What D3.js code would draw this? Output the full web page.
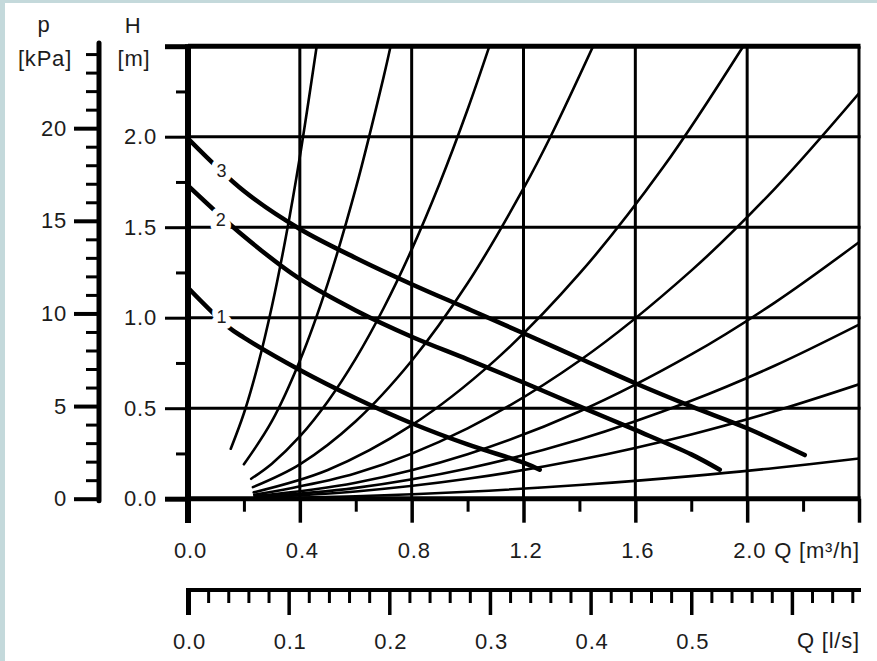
<!DOCTYPE html>
<html><head><meta charset="utf-8">
<script src="https://cdn.jsdelivr.net/npm/d3@7"></script>
<style>
html,body{margin:0;padding:0;background:#fff;}
svg{display:block;}
text{font-family:"Liberation Sans",Arial,sans-serif;fill:#1c1c1c;}
</style></head><body>
<svg id="chart" width="877" height="661"></svg>
<script>
// ---- axis ticks / labels ----
const qTicks = [0, 0.4, 0.8, 1.2, 1.6, 2.0, 2.4];
const qTickLabels = ["0.0", "0.4", "0.8", "1.2", "1.6", "2.0", ""];
const qMinor = [0.2, 0.6, 1.0, 1.4, 1.8, 2.2];
const hTicks = [0, 0.5, 1.0, 1.5, 2.0, 2.5];
const hTickLabels = ["0.0", "0.5", "1.0", "1.5", "2.0", ""];
const hMinor = [0.25, 0.75, 1.25, 1.75, 2.25];
const pMajor = [0, 5, 10, 15, 20];
const pMinor = [1, 2, 3, 4, 6, 7, 8, 9, 11, 12, 13, 14, 16, 17, 18, 19, 21, 22, 23, 24];
const lsMajor = [0, 0.1, 0.2, 0.3, 0.4, 0.5, 0.6];
const lsTickLabels = ["0.0", "0.1", "0.2", "0.3", "0.4", "0.5", ""];
const lsMinor = [0.02, 0.04, 0.06, 0.08, 0.12, 0.14, 0.16, 0.18, 0.22, 0.24, 0.26, 0.28,
  0.32, 0.34, 0.36, 0.38, 0.42, 0.44, 0.46, 0.48, 0.52, 0.54, 0.56, 0.58, 0.62, 0.64, 0.66];

// ---- pump curves [Q m3/h, H m] ----
const pump3 = [[0, 1.99], [0.2, 1.70], [0.4, 1.49], [0.6, 1.33], [0.8, 1.185], [1.0, 1.05],
  [1.2, 0.914], [1.4, 0.776], [1.6, 0.638], [1.8, 0.51], [2.0, 0.389], [2.206, 0.241]];
const pump2 = [[0, 1.73], [0.2, 1.45], [0.4, 1.214], [0.6, 1.04], [0.8, 0.895], [1.0, 0.77],
  [1.2, 0.642], [1.4, 0.51], [1.6, 0.38], [1.8, 0.245], [1.902, 0.16]];
const pump1 = [[0, 1.165], [0.143, 0.95], [0.2, 0.89], [0.4, 0.711], [0.6, 0.555], [0.8, 0.417],
  [1.0, 0.30], [1.2, 0.199], [1.258, 0.16]];
const pumpLabels = [
  { id: "3", q: 0.12, h: 1.815 },
  { id: "2", q: 0.117, h: 1.54 },
  { id: "1", q: 0.12, h: 1.004 }
];

// ---- system curves [Q m3/h, H m] ----
const sysA = [[0.153, 0.276], [0.2, 0.472], [0.25, 0.738], [0.3, 1.062], [0.35, 1.446], [0.4, 1.888], [0.46, 2.497]];
const sysB = [[0.2, 0.19], [0.3, 0.428], [0.4, 0.762], [0.5, 1.19], [0.6, 1.714], [0.7, 2.332], [0.725, 2.502]];
const sysC = [[0.226, 0.11], [0.3, 0.1935], [0.4, 0.344], [0.5, 0.5375], [0.6, 0.774], [0.7, 1.0535],
  [0.8, 1.376], [0.9, 1.7415], [1.0, 2.15], [1.078, 2.5]];
const sysD = [[0.232, 0.064], [0.4, 0.19], [0.6, 0.428], [0.8, 0.762], [1.0, 1.19], [1.2, 1.714], [1.3, 2.011], [1.449, 2.5]];
const sysE = [[0.235, 0.035], [0.5, 0.1585], [0.8, 0.406], [1.1, 0.767], [1.4, 1.243], [1.7, 1.832], [1.986, 2.5]];
const sysF = [[0.237, 0.022], [0.6, 0.14], [1.0, 0.389], [1.4, 0.762], [1.8, 1.26], [2.1, 1.715], [2.4, 2.24]];
const sysG = [[0.238, 0.014], [0.6, 0.0886], [1.0, 0.246], [1.4, 0.482], [1.8, 0.797], [2.1, 1.085], [2.4, 1.417]];
const sysH = [[0.24, 0.0096], [0.6, 0.060], [1.0, 0.167], [1.4, 0.327], [1.8, 0.541], [2.1, 0.736], [2.4, 0.962]];
const sysI = [[0.24, 0.0065], [0.6, 0.040], [1.0, 0.11], [1.4, 0.215], [1.8, 0.355], [2.1, 0.484], [2.4, 0.632]];
const sysJ = [[0.24, 0.0022], [0.6, 0.0139], [1.0, 0.0385], [1.4, 0.0755], [1.8, 0.1247], [2.1, 0.170], [2.4, 0.2218]];
const systemCurves = [sysA, sysB, sysC, sysD, sysE, sysF, sysG, sysH, sysI, sysJ];
const pumpCurves = [pump1, pump2, pump3];

const KPA_PER_M = 9.77;
const LS_PER_M3H = 1 / 3.6;

// ---- scales ----
const x = d3.scaleLinear().domain([0, 2.4]).range([188, 859]);
const y = d3.scaleLinear().domain([0, 2.5]).range([498.7, 46.2]);
const xl = d3.scaleLinear().domain([0, 2.4 * LS_PER_M3H]).range([188, 859]);
const yp = d3.scaleLinear().domain([0, 2.5 * KPA_PER_M]).range([498.7, 46.2]);

const svg = d3.select("#chart");
svg.append("rect").attr("width", 877).attr("height", 661).attr("fill", "#c4d9db");
svg.append("rect").attr("x", 5).attr("y", 3).attr("width", 872).attr("height", 658).attr("fill", "#ffffff");

const FONT = 22;
const LSP = "0.8px";
function styleAxis(g, width) {
  g.select(".domain").remove();
  g.selectAll(".tick line").attr("stroke", "#000").attr("stroke-width", width);
  g.selectAll(".tick text")
    .attr("fill", "#1c1c1c")
    .style("font-size", FONT + "px")
    .style("letter-spacing", LSP)
    .style("font-family", '"Liberation Sans", Arial, sans-serif');
  g.attr("font-family", null).attr("font-size", null);
}

// ---- grid ----
const grid = svg.append("g");
grid.selectAll("line.v").data(qTicks.filter(d => d > 0)).join("line")
  .attr("x1", d => x(d)).attr("x2", d => x(d))
  .attr("y1", y(2.5)).attr("y2", y(0))
  .attr("stroke", "#000").attr("stroke-width", 3);
grid.selectAll("line.h").data(hTicks).join("line")
  .attr("x1", x(0)).attr("x2", x(2.4) + 1.5)
  .attr("y1", d => y(d)).attr("y2", d => y(d))
  .attr("stroke", "#000").attr("stroke-width", d => (d === 0 || d === 2.5) ? 5 : 3);

// ---- H axis (left of plot) ----
const hAxis = svg.append("g").attr("transform", `translate(${x(0)},0)`)
  .call(d3.axisLeft(y).tickValues(hTicks).tickSize(23).tickSizeOuter(0).tickPadding(8)
    .tickFormat((d, i) => hTickLabels[i]));
styleAxis(hAxis, 3);
hAxis.selectAll(".tick line").attr("stroke-width", d => (d === 0 || d === 2.5) ? 5 : 3);
const hMinAxis = svg.append("g").attr("transform", `translate(${x(0)},0)`)
  .call(d3.axisLeft(y).tickValues(hMinor).tickSize(12).tickFormat(""));
styleAxis(hMinAxis, 3);

// ---- Q m3/h axis ----
const qAxis = svg.append("g").attr("transform", `translate(0,${y(0)})`)
  .call(d3.axisBottom(x).tickValues(qTicks).tickSize(24).tickSizeOuter(0).tickPadding(20)
    .tickFormat((d, i) => qTickLabels[i]));
styleAxis(qAxis, 3.5);
qAxis.selectAll(".tick text").attr("dx", 2);
const qMinAxis = svg.append("g").attr("transform", `translate(0,${y(0)})`)
  .call(d3.axisBottom(x).tickValues(qMinor).tickSize(13).tickFormat(""));
styleAxis(qMinAxis, 3);

// left vertical axis line
svg.append("line").attr("x1", x(0)).attr("x2", x(0)).attr("y1", y(2.5) - 2).attr("y2", 523)
  .attr("stroke", "#000").attr("stroke-width", 6);

svg.append("text").attr("x", 860).attr("y", 558).attr("text-anchor", "end")
  .style("font-size", FONT + "px").style("letter-spacing", LSP).text("Q [m³/h]");

// ---- p axis ----
const pX = 99;
const pAxis = svg.append("g").attr("transform", `translate(${pX},0)`)
  .call(d3.axisLeft(yp).tickValues(pMajor).tickSize(25).tickSizeOuter(0).tickPadding(7)
    .tickFormat(d3.format("d")));
styleAxis(pAxis, 4);
const pMinAxis = svg.append("g").attr("transform", `translate(${pX},0)`)
  .call(d3.axisLeft(yp).tickValues(pMinor).tickSize(13).tickFormat(""));
styleAxis(pMinAxis, 3);
svg.append("line").attr("x1", pX).attr("x2", pX).attr("y1", 43).attr("y2", y(0) + 2)
  .attr("stroke", "#000").attr("stroke-width", 5).attr("stroke-linecap", "round");

// ---- Q l/s axis ----
const lsY = 590;
svg.append("line").attr("x1", xl(0) - 2).attr("x2", xl(2.4 * LS_PER_M3H) + 2).attr("y1", lsY).attr("y2", lsY)
  .attr("stroke", "#000").attr("stroke-width", 4);
const lsAxis = svg.append("g").attr("transform", `translate(0,${lsY})`)
  .call(d3.axisBottom(xl).tickValues(lsMajor).tickSize(25).tickSizeOuter(0).tickPadding(18)
    .tickFormat((d, i) => lsTickLabels[i]));
styleAxis(lsAxis, 3.5);
lsAxis.selectAll(".tick line").attr("stroke-width", d => d === 0 ? 5 : 3.5);
lsAxis.selectAll(".tick text").attr("dx", 1);
const lsMinAxis = svg.append("g").attr("transform", `translate(0,${lsY})`)
  .call(d3.axisBottom(xl).tickValues(lsMinor).tickSize(13).tickFormat(""));
styleAxis(lsMinAxis, 3);
svg.append("text").attr("x", 860).attr("y", 648).attr("text-anchor", "end")
  .style("font-size", FONT + "px").style("letter-spacing", LSP).text("Q [l/s]");

// ---- headers ----
const hdr = [
  { t: "p", x: 44, y: 32 }, { t: "[kPa]", x: 45, y: 66 },
  { t: "H", x: 133, y: 33 }, { t: "[m]", x: 134, y: 66 }
];
svg.selectAll("text.hdr").data(hdr).join("text").attr("class", "hdr")
  .attr("x", d => d.x).attr("y", d => d.y).attr("text-anchor", "middle")
  .style("font-size", FONT + "px").style("letter-spacing", LSP).text(d => d.t);

// ---- curves ----
svg.append("clipPath").attr("id", "plotclip").append("rect")
  .attr("x", x(0)).attr("y", y(2.5)).attr("width", x(2.4) - x(0)).attr("height", y(0) - y(2.5));
const line = d3.line().x(d => x(d[0])).y(d => y(d[1])).curve(d3.curveCatmullRom.alpha(0.5));
const curves = svg.append("g").attr("clip-path", "url(#plotclip)");
curves.selectAll("path.sys").data(systemCurves).join("path").attr("class", "sys")
  .attr("d", line).attr("fill", "none").attr("stroke", "#000").attr("stroke-width", 2.6)
  .attr("stroke-linecap", "round");
curves.selectAll("path.pump").data(pumpCurves).join("path").attr("class", "pump")
  .attr("d", line).attr("fill", "none").attr("stroke", "#000").attr("stroke-width", 4.5)
  .attr("stroke-linecap", "round");

svg.selectAll("text.plab").data(pumpLabels).join("text").attr("class", "plab")
  .attr("x", d => x(d.q)).attr("y", d => y(d.h)).attr("dy", "0.36em").attr("text-anchor", "middle")
  .style("font-size", "18px").attr("stroke", "#fff").attr("stroke-width", 12)
  .style("paint-order", "stroke").attr("stroke-linejoin", "round").text(d => d.id);
</script>
</body></html>
